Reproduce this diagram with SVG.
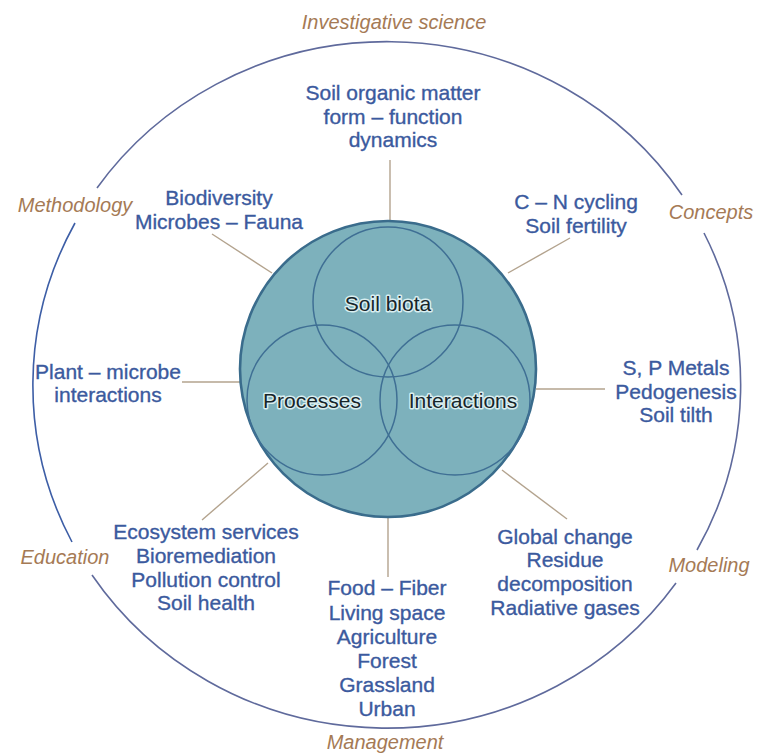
<svg xmlns="http://www.w3.org/2000/svg" width="757" height="754" viewBox="0 0 757 754">
<style>
.t{font-family:"Liberation Sans",Arial,sans-serif;font-size:21px;fill:#3b5a9e;text-anchor:middle;stroke:#3b5a9e;stroke-width:0.35}
.c{font-family:"Liberation Sans",Arial,sans-serif;font-size:20px;font-style:italic;fill:#a57a55;text-anchor:middle}
.in{font-family:"Liberation Sans",Arial,sans-serif;font-size:21px;fill:#16252a;text-anchor:middle;stroke:#d9eef0;stroke-width:3;paint-order:stroke;stroke-linejoin:round}
.ring{fill:none;stroke:#5f6a9c;stroke-width:1.6}
.spoke{stroke:#b3a38e;stroke-width:1.4;fill:none}
.ic{fill:none;stroke:#3f6f94;stroke-width:1.5}
</style>
<rect width="757" height="754" fill="#ffffff"/>
<g id="outer-ring">
<path class="ring" style="stroke:#3d5ea6" d="M75,223 A354,343 0 0 0 72,542"/>
<path class="ring" d="M92,575 A354,343 0 0 0 676,583"/>
<path class="ring" d="M697,550 A354,343 0 0 0 704,233"/>
<path class="ring" d="M682,195 A354,343 0 0 0 97,188"/>
</g>
<g id="connectors">
<line class="spoke" x1="390" y1="160" x2="390" y2="222"/>
<line class="spoke" x1="212" y1="234" x2="272" y2="273"/>
<line class="spoke" x1="570" y1="238" x2="508" y2="273"/>
<line class="spoke" x1="182" y1="382" x2="241" y2="382"/>
<line class="spoke" x1="536" y1="389" x2="605" y2="389"/>
<line class="spoke" x1="202" y1="520" x2="268" y2="463"/>
<line class="spoke" x1="502" y1="470" x2="567" y2="519"/>
<line class="spoke" x1="388" y1="516" x2="388" y2="577"/>
</g>
<g id="core">
<circle cx="388" cy="369" r="148" fill="#7db1bc" stroke="#3a6c8c" stroke-width="2.6"/>
</g>
<g id="soil-biota">
<circle class="ic" cx="388" cy="302" r="75"/>
<text class="in" x="388" y="311">Soil biota</text>
</g>
<g id="processes">
<circle class="ic" cx="322" cy="400" r="75"/>
<text class="in" x="312" y="408">Processes</text>
</g>
<g id="interactions">
<circle class="ic" cx="455" cy="400" r="75"/>
<text class="in" x="463" y="408">Interactions</text>
</g>
<g id="label-investigative"><text class="c" x="394" y="29">Investigative science</text></g>
<g id="label-methodology"><text class="c" x="75" y="212">Methodology</text></g>
<g id="label-concepts"><text class="c" x="711" y="219">Concepts</text></g>
<g id="label-education"><text class="c" x="65" y="564">Education</text></g>
<g id="label-modeling"><text class="c" x="709" y="572">Modeling</text></g>
<g id="label-management"><text class="c" x="385" y="749">Management</text></g>
<g id="node-som">
<text class="t" x="393" y="100">Soil organic matter</text>
<text class="t" x="393" y="124">form – function</text>
<text class="t" x="393" y="147">dynamics</text>
</g>
<g id="node-biodiversity">
<text class="t" x="219" y="205">Biodiversity</text>
<text class="t" x="219" y="229">Microbes – Fauna</text>
</g>
<g id="node-cn">
<text class="t" x="576" y="209">C – N cycling</text>
<text class="t" x="576" y="233">Soil fertility</text>
</g>
<g id="node-plant">
<text class="t" x="108" y="379">Plant – microbe</text>
<text class="t" x="108" y="402">interactions</text>
</g>
<g id="node-sp">
<text class="t" x="676" y="375">S, P Metals</text>
<text class="t" x="676" y="399">Pedogenesis</text>
<text class="t" x="676" y="422">Soil tilth</text>
</g>
<g id="node-ecosystem">
<text class="t" x="206" y="539">Ecosystem services</text>
<text class="t" x="206" y="563">Bioremediation</text>
<text class="t" x="206" y="587">Pollution control</text>
<text class="t" x="206" y="610">Soil health</text>
</g>
<g id="node-food">
<text class="t" x="387" y="595">Food – Fiber</text>
<text class="t" x="387" y="620">Living space</text>
<text class="t" x="387" y="644">Agriculture</text>
<text class="t" x="387" y="668">Forest</text>
<text class="t" x="387" y="692">Grassland</text>
<text class="t" x="387" y="716">Urban</text>
</g>
<g id="node-global">
<text class="t" x="565" y="544">Global change</text>
<text class="t" x="565" y="567">Residue</text>
<text class="t" x="565" y="591">decomposition</text>
<text class="t" x="565" y="615">Radiative gases</text>
</g>
</svg>
